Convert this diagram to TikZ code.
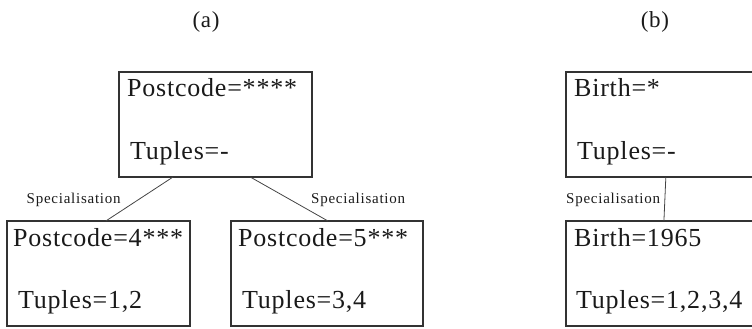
\documentclass[tikz,border=0pt]{standalone}
\usepackage{fontspec}
\setmainfont{Liberation Serif}[LetterSpace=3]
\newfontfamily\labfont{Liberation Serif}[LetterSpace=5]
\usetikzlibrary{calc}
\definecolor{boxline}{HTML}{333333}
\definecolor{conline}{HTML}{444444}
\definecolor{txt}{HTML}{1A1A1A}
\tikzset{
  boxnode/.style={draw=boxline, line width=1.3pt, rectangle, inner sep=0pt, outer sep=0pt, anchor=north west},
  bigtext/.style={anchor=base west, inner sep=0pt, text=txt, font=\fontsize{26}{30}\selectfont},
  labtext/.style={anchor=base west, inner sep=0pt, text=txt, font=\labfont\fontsize{15}{17}\selectfont},
  titletext/.style={anchor=base, inner sep=0pt, text=txt, font=\fontsize{23}{27}\selectfont},
  conn/.style={draw=conline, line width=0.8pt}
}
\begin{document}
\begin{tikzpicture}[x=1pt,y=-1pt]
\useasboundingbox (0,0) rectangle (752,329);
\clip (0,0) rectangle (752,329);
% titles
\node[titletext] (ta) at (206,28) {(a)};
\node[titletext] (tb) at (655,28) {(b)};
% boxes (a)
\node[boxnode, minimum width=193pt, minimum height=105pt] (pa) at (119,72) {};
\node[boxnode, minimum width=183pt, minimum height=105pt] (ca) at (7,221) {};
\node[boxnode, minimum width=192pt, minimum height=105pt] (cb) at (231,221) {};
% boxes (b)
\node[boxnode, minimum width=192pt, minimum height=105pt] (pb) at (566,72) {};
\node[boxnode, minimum width=192pt, minimum height=105pt] (cc) at (566,221) {};
% texts (a)
\node[bigtext] (pa1) at (127,96) {Postcode=****};
\node[bigtext] (pa2) at (130,159) {Tuples=-};
\node[bigtext] (ca1) at (13,246.5) {Postcode=4***};
\node[bigtext] (ca2) at (18,308) {Tuples=1,2};
\node[bigtext] (cb1) at (238,246.5) {Postcode=5***};
\node[bigtext] (cb2) at (242,308) {Tuples=3,4};
% texts (b)
\node[bigtext] (pb1) at (574,96.5) {Birth=*};
\node[bigtext] (pb2) at (577,159) {Tuples=-};
\node[bigtext] (cc1) at (574,246) {Birth=1965};
\node[bigtext] (cc2) at (576,308) {Tuples=1,2,3,4};
% connectors
\draw[conn] ($(pa.south west)!0.28!(pa.south east)$) -- ($(ca.north west)!0.54!(ca.north east)$);
\draw[conn] ($(pa.south west)!0.68!(pa.south east)$) -- ($(cb.north west)!0.505!(cb.north east)$);
\draw[conn] ($(pb.south west)!0.52!(pb.south east)$) -- ($(cc.north west)!0.51!(cc.north east)$);
% labels
\node[labtext] (l1) at (26.5,203.5) {Specialisation};
\node[labtext] (l2) at (311,203.5) {Specialisation};
\node[labtext] (l3) at (566,203) {Specialisation};
\end{tikzpicture}
\end{document}
